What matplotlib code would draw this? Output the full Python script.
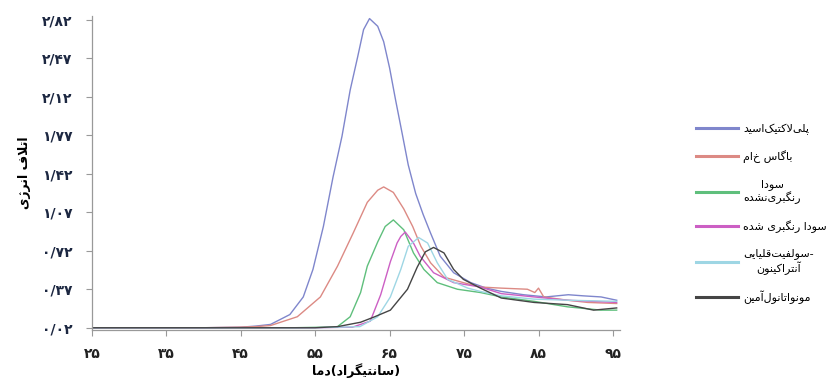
import numpy as np
import matplotlib
matplotlib.use("Agg")
import matplotlib.pyplot as plt

# داده‌ها (خوانده شده از تصویر)
t_pla = [25, 30, 35, 40, 45, 47, 49, 51.6, 53.4, 54.7, 56.1, 57.4, 58.6, 59.7, 60.7, 61.5, 62.3, 63.4,
         64.2, 65, 65.8, 66.7, 67.5, 68.5, 69.5, 70.5, 71.8, 73.6, 75.9, 78, 80, 83, 86, 89, 91, 93.4, 95.5]
v_pla = [0.02, 0.02, 0.02, 0.02, 0.025, 0.035, 0.05, 0.14, 0.30, 0.55, 0.94, 1.39, 1.76, 2.18, 2.48, 2.73,
         2.83, 2.76, 2.62, 2.38, 2.09, 1.78, 1.50, 1.24, 1.05, 0.88, 0.67, 0.52, 0.43, 0.38, 0.35, 0.32,
         0.30, 0.32, 0.31, 0.30, 0.27]

t_raw = [25, 30, 35, 40, 44.6, 47, 49, 52.6, 55.7, 58, 60.1, 62, 63.4, 64.2, 65.5, 66.9, 68.1, 69.2,
         70.5, 72.3, 74.9, 77.2, 80, 83.5, 84.5, 85, 85.7, 88.9, 91.6, 95.5]
v_raw = [0.02, 0.02, 0.02, 0.02, 0.025, 0.03, 0.04, 0.12, 0.30, 0.58, 0.88, 1.16, 1.27, 1.30, 1.25, 1.10,
         0.94, 0.76, 0.61, 0.48, 0.43, 0.39, 0.38, 0.37, 0.34, 0.38, 0.30, 0.27, 0.25, 0.24]

t_soda_u = [25, 35, 45, 52, 56, 58, 59.7, 61.1, 62, 63.4, 64.4, 65.5, 66.9, 68.2, 69.6, 71.4, 74.1,
            77.2, 80, 84.4, 88.9, 93.4, 95.5]
v_soda_u = [0.02, 0.02, 0.02, 0.02, 0.025, 0.03, 0.12, 0.34, 0.58, 0.80, 0.94, 1.00, 0.91, 0.70, 0.55,
            0.43, 0.37, 0.34, 0.30, 0.26, 0.21, 0.18, 0.18]

t_soda_b = [25, 35, 45, 55, 60, 62.4, 63.8, 65.1, 66, 66.5, 67.1, 68.2, 69.1, 70.9, 73.6, 77.2, 80,
            84.4, 88.9, 95.5]
v_soda_b = [0.02, 0.02, 0.02, 0.02, 0.025, 0.08, 0.32, 0.62, 0.79, 0.85, 0.89, 0.79, 0.67, 0.52, 0.43,
            0.39, 0.33, 0.30, 0.27, 0.25]

t_asaq = [25, 35, 45, 55, 61, 63.4, 65.1, 66.5, 67.5, 68.9, 70.1, 71.4, 72.8, 75.5, 77.2, 80, 84.4,
          88.9, 95.5]
v_asaq = [0.02, 0.02, 0.02, 0.02, 0.03, 0.12, 0.30, 0.55, 0.76, 0.84, 0.79, 0.61, 0.46, 0.38, 0.35,
          0.31, 0.28, 0.27, 0.26]

t_mea = [25, 35, 45, 55, 58, 61.1, 63, 65.1, 67.4, 68.7, 69.8, 70.9, 72.3, 73.6, 74.9, 77.2, 80, 84.4,
         88.9, 92.4, 95.5]
v_mea = [0.02, 0.02, 0.02, 0.02, 0.03, 0.07, 0.12, 0.18, 0.37, 0.57, 0.71, 0.75, 0.70, 0.55, 0.46, 0.38,
         0.29, 0.25, 0.23, 0.18, 0.20]

x_ticks = [25, 35, 45, 55, 65, 75, 85, 95]
y_ticks = [0.02, 0.37, 0.72, 1.07, 1.42, 1.77, 2.12, 2.47, 2.82]

# --- شکل‌دهی ساده حروف فارسی (matplotlib خودش حروف را به هم نمی‌چسباند)
FORMS = {
    'ا': '\ufe8d\ufe8e', 'آ': '\ufe81\ufe82', 'د': '\ufea9\ufeaa', 'ر': '\ufead\ufeae',
    'ژ': '\ufb8a\ufb8b', 'و': '\ufeed\ufeee', 'لا': '\ufefb\ufefc', 'لآ': '\ufef5\ufef6',
    'ب': '\ufe8f\ufe90\ufe91\ufe92', 'پ': '\ufb56\ufb57\ufb58\ufb59', 'ت': '\ufe95\ufe96\ufe97\ufe98',
    'س': '\ufeb1\ufeb2\ufeb3\ufeb4', 'ش': '\ufeb5\ufeb6\ufeb7\ufeb8', 'ف': '\ufed1\ufed2\ufed3\ufed4',
    'ق': '\ufed5\ufed6\ufed7\ufed8', 'ک': '\ufb8e\ufb8f\ufb90\ufb91', 'گ': '\ufb92\ufb93\ufb94\ufb95',
    'ل': '\ufedd\ufede\ufedf\ufee0', 'م': '\ufee1\ufee2\ufee3\ufee4', 'ن': '\ufee5\ufee6\ufee7\ufee8',
    'ه': '\ufee9\ufeea\ufeeb\ufeec', 'ی': '\ufbfc\ufbfd\ufbfe\ufbff',
}


def shape(s):
    units = []
    i = 0
    while i < len(s):
        if s[i] == 'ل' and i + 1 < len(s) and s[i + 1] in 'اآ':
            units.append(s[i:i + 2])
            i += 2
        else:
            units.append(s[i])
            i += 1
    out = []
    for k, c in enumerate(units):
        if c not in FORMS:
            if c != '\u200c':
                out.append(c)
            continue
        prev = units[k - 1] if k > 0 else None
        nxt = units[k + 1] if k + 1 < len(units) else None
        a = prev in FORMS and len(FORMS[prev]) == 4
        b = len(FORMS[c]) == 4 and nxt in FORMS
        f = FORMS[c]
        if a and b:
            out.append(f[3])
        elif a:
            out.append(f[1])
        elif b:
            out.append(f[2])
        else:
            out.append(f[0])
    return ''.join(reversed(out))


def fa_digits(s):
    return s.translate(str.maketrans('0123456789.', '۰۱۲۳۴۵۶۷۸۹/'))


labels = [
    shape('پلی‌لاکتیک‌اسید'),
    shape('باگاس خام'),
    shape('سودا') + '\n' + shape('رنگبری‌نشده'),
    shape('سودا رنگبری شده'),
    shape('سولفیت‌قلیایی') + '-\n' + shape('آنتراکینون'),
    shape('مونواتانول‌آمین'),
]
colors = ['#7f86cc', '#dc8a84', '#5fbf7c', '#cc5fc4', '#9ed6e4', '#454545']
series = [(t_pla, v_pla), (t_raw, v_raw), (t_soda_u, v_soda_u), (t_soda_b, v_soda_b),
          (t_asaq, v_asaq), (t_mea, v_mea)]

plt.rcParams['font.family'] = ['DejaVu Sans']

fig = plt.figure(figsize=(8.35, 3.9), dpi=100)
ax = fig.add_axes([0.110, 0.154, 0.633, 0.804])

for (t, v), c, lab in zip(series, colors, labels):
    ax.plot(t, v, color=c, lw=1.0, label=lab)

ax.set_xlim(25, 96)
ax.set_ylim(0.0, 2.85)
ax.set_xticks(x_ticks)
ax.set_xticklabels([fa_digits(str(x)) for x in x_ticks], fontsize=10, fontweight='bold', color='#222222')
ax.set_yticks(y_ticks)
ax.set_yticklabels([fa_digits('%.2f' % y) for y in y_ticks], fontsize=10, fontweight='bold', color='#1c2741')
ax.tick_params(axis='both', color='#999999', length=4, width=0.8)
ax.tick_params(axis='x', pad=8)
ax.tick_params(axis='y', pad=10)
for side in ['top', 'right']:
    ax.spines[side].set_visible(False)
for side in ['left', 'bottom']:
    ax.spines[side].set_color('#999999')
    ax.spines[side].set_linewidth(0.9)

ax.set_xlabel(shape('دما') + '(' + shape('سانتیگراد') + ')', fontsize=9, fontweight='bold', labelpad=2)
ax.set_ylabel(shape('اتلاف انرژی'), fontsize=9, fontweight='bold', labelpad=8)

leg = fig.legend(loc='center left', bbox_to_anchor=(0.821, 0.452), frameon=False, fontsize=8,
                 handlelength=3.8, handletextpad=0.5, labelspacing=1.4)
for line in leg.get_lines():
    line.set_linewidth(2.2)
for txt in leg.get_texts():
    txt.set_multialignment('center')

fig.savefig('out.png', dpi=100)
